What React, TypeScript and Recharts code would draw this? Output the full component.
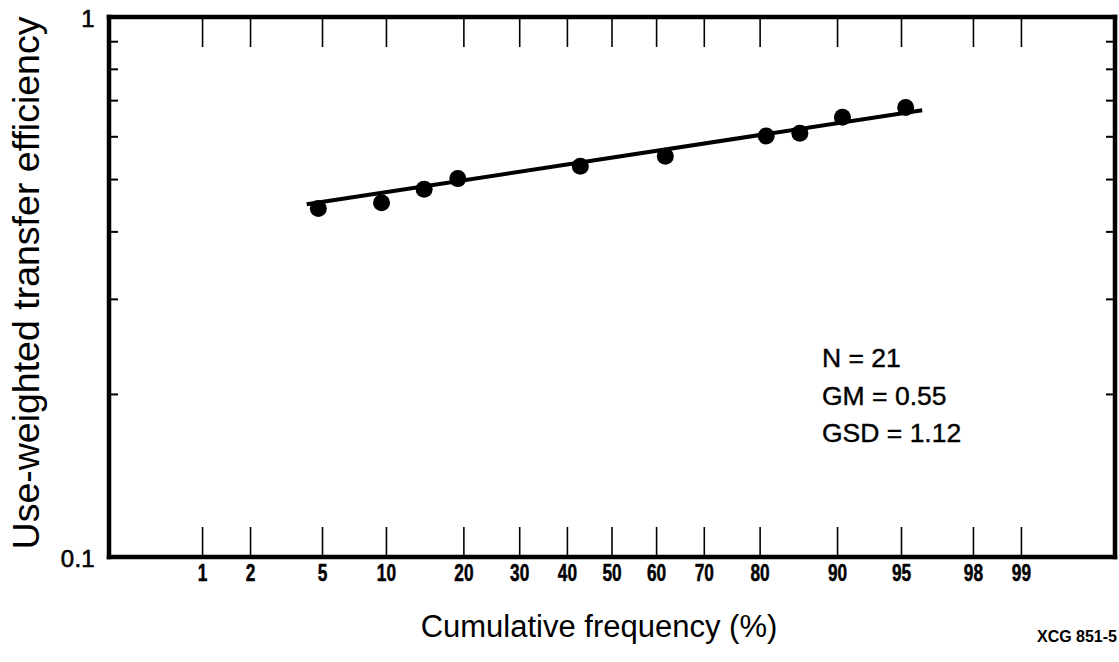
import React from 'react';
import { ScatterChart, Scatter, XAxis, YAxis } from 'recharts';

// ---- data ----
const cumFreq = [4.76, 9.52, 14.29, 19.05, 42.86, 61.9, 80.95, 85.71, 90.48, 95.24];
const efficiency = [0.442, 0.453, 0.48, 0.502, 0.529, 0.552, 0.602, 0.609, 0.652, 0.68];
const fitFreq = [4.14, 96.1];
const fitEff = [0.45, 0.672];
const xTickLabels = [1, 2, 5, 10, 20, 30, 40, 50, 60, 70, 80, 90, 95, 98, 99];
const yTicks = [0.1, 0.2, 0.3, 0.4, 0.5, 0.6, 0.7, 0.8, 0.9, 1];
const yLabelled = [0.1, 1];
const statsLines = ['N = 21', 'GM = 0.55', 'GSD = 1.12'];

// normal-probability axis transform (inverse normal CDF, Acklam)
function probit(p: number): number {
  const a = [-3.969683028665376e1, 2.209460984245205e2, -2.759285104469687e2, 1.38357751867269e2, -3.066479806614716e1, 2.506628277459239];
  const b = [-5.447609879822406e1, 1.615858368580409e2, -1.556989798598866e2, 6.680131188771972e1, -1.328068155288572e1];
  const c = [-7.784894002430293e-3, -3.223964580411365e-1, -2.400758277161838, -2.549732539343734, 4.374664141464968, 2.938163982698783];
  const d = [7.784695709041462e-3, 3.224671290700398e-1, 2.445134137142996, 3.754408661907416];
  const pl = 0.02425;
  if (p < pl) {
    const q = Math.sqrt(-2 * Math.log(p));
    return (((((c[0] * q + c[1]) * q + c[2]) * q + c[3]) * q + c[4]) * q + c[5]) / ((((d[0] * q + d[1]) * q + d[2]) * q + d[3]) * q + 1);
  }
  if (p > 1 - pl) {
    const q = Math.sqrt(-2 * Math.log(1 - p));
    return -(((((c[0] * q + c[1]) * q + c[2]) * q + c[3]) * q + c[4]) * q + c[5]) / ((((d[0] * q + d[1]) * q + d[2]) * q + d[3]) * q + 1);
  }
  const q = p - 0.5;
  const r = q * q;
  return ((((((a[0] * r + a[1]) * r + a[2]) * r + a[3]) * r + a[4]) * r + a[5]) * q) / (((((b[0] * r + b[1]) * r + b[2]) * r + b[3]) * r + b[4]) * r + 1);
}

const points = cumFreq.map((p, i) => ({ x: probit(p / 100), y: efficiency[i] }));
const fit = fitFreq.map((p, i) => ({ x: probit(p / 100), y: fitEff[i] }));
const xTicks = xTickLabels.map((p) => probit(p / 100));
const X_DOMAIN: [number, number] = [-2.858, 2.858];

const labelFor = (v: number) => {
  let best = 0;
  xTicks.forEach((t, i) => {
    if (Math.abs(t - v) < Math.abs(xTicks[best] - v)) best = i;
  });
  return xTickLabels[best];
};

const mainFont = "'Liberation Sans', Arial, Helvetica, sans-serif";

const BottomTick = (props: any) => {
  const { x, y, payload } = props;
  return (
    <g>
      <line x1={x} y1={y} x2={x} y2={y - 30} stroke="#000" strokeWidth={1.6} />
      <text
        x={0}
        y={0}
        transform={`translate(${x},${y + 23.5}) scale(0.72,1)`}
        textAnchor="middle"
        fontFamily={mainFont}
        fontWeight="bold"
        fontSize={24}
        fill="#000"
        stroke="#000"
        strokeWidth={0.5}
      >
        {labelFor(payload.value)}
      </text>
    </g>
  );
};

const TopTick = (props: any) => {
  const { x, y } = props;
  return <line x1={x} y1={y} x2={x} y2={y + 30} stroke="#000" strokeWidth={1.6} />;
};

const LeftTick = (props: any) => {
  const { x, y, payload } = props;
  const v = payload.value;
  const labelled = yLabelled.some((t) => Math.abs(t - v) < 1e-9);
  const isEnd = Math.abs(v - 0.1) < 1e-9 || Math.abs(v - 1) < 1e-9;
  return (
    <g>
      {!isEnd && <line x1={x} y1={y} x2={x + 9} y2={y} stroke="#000" strokeWidth={2} />}
      {labelled && (
        <text
          x={x - 14}
          y={y + 9.5}
          textAnchor="end"
          fontFamily={mainFont}
          fontSize={24}
          letterSpacing={0.3}
          fill="#000"
          stroke="#000"
          strokeWidth={0.6}
        >
          {v === 1 ? '1' : '0.1'}
        </text>
      )}
    </g>
  );
};

const RightTick = (props: any) => {
  const { x, y, payload } = props;
  const v = payload.value;
  const isEnd = Math.abs(v - 0.1) < 1e-9 || Math.abs(v - 1) < 1e-9;
  if (isEnd) return <g />;
  return <line x1={x} y1={y} x2={x - 9} y2={y} stroke="#000" strokeWidth={2} />;
};

const Dot = (props: any) => {
  const { cx, cy } = props;
  return <circle cx={cx} cy={cy} r={8.5} fill="#000" />;
};

const NoDot = () => <g />;

const axisLine = { stroke: '#000', strokeWidth: 4.5, strokeLinecap: 'square' as const };

export default function App() {
  return (
    <div style={{ position: 'absolute', left: 0, top: 0, width: 1119, height: 662, background: '#fff' }}>
      <ScatterChart width={1119} height={662} margin={{ top: 7, right: 0, bottom: 75, left: 99 }}>
        <XAxis
          xAxisId="b"
          type="number"
          dataKey="x"
          orientation="bottom"
          domain={X_DOMAIN}
          allowDataOverflow
          ticks={xTicks}
          interval={0}
          height={30}
          tickSize={0}
          tickMargin={0}
          tickLine={false}
          axisLine={axisLine}
          tick={<BottomTick />}
        />
        <XAxis
          xAxisId="t"
          type="number"
          dataKey="x"
          orientation="top"
          domain={X_DOMAIN}
          allowDataOverflow
          ticks={xTicks}
          interval={0}
          height={10}
          tickSize={0}
          tickMargin={0}
          tickLine={false}
          axisLine={axisLine}
          tick={<TopTick />}
        />
        <YAxis
          yAxisId="l"
          type="number"
          dataKey="y"
          orientation="left"
          scale="log"
          domain={[0.1, 1]}
          allowDataOverflow
          ticks={yTicks}
          interval={0}
          width={10}
          tickSize={0}
          tickMargin={0}
          tickLine={false}
          axisLine={axisLine}
          tick={<LeftTick />}
        />
        <YAxis
          yAxisId="r"
          type="number"
          dataKey="y"
          orientation="right"
          scale="log"
          domain={[0.1, 1]}
          allowDataOverflow
          ticks={yTicks}
          interval={0}
          width={4}
          tickSize={0}
          tickMargin={0}
          tickLine={false}
          axisLine={axisLine}
          tick={<RightTick />}
        />
        <Scatter
          xAxisId="b"
          yAxisId="l"
          data={fit}
          line={{ stroke: '#000', strokeWidth: 4 }}
          shape={<NoDot />}
          isAnimationActive={false}
        />
        <Scatter xAxisId="b" yAxisId="l" data={points} shape={<Dot />} isAnimationActive={false} />
      </ScatterChart>
      <svg width={1119} height={662} style={{ position: 'absolute', left: 0, top: 0, pointerEvents: 'none' }}>
        <text
          x={39}
          y={283}
          transform="rotate(-90, 39, 283)"
          textAnchor="middle"
          fontFamily={mainFont}
          fontSize={37.5}
          fill="#000"
        >
          Use-weighted transfer efficiency
        </text>
        <text x={599} y={637} textAnchor="middle" fontFamily={mainFont} fontSize={31} fill="#000">
          Cumulative frequency (%)
        </text>
        <text x={1117} y={642} textAnchor="end" fontFamily={mainFont} fontWeight="bold" fontSize={16} fill="#000">
          XCG 851-5
        </text>
        {statsLines.map((s, i) => (
          <text
            key={s}
            x={822}
            y={367 + i * 37.5}
            fontFamily={mainFont}
            fontSize={26.5}
            fill="#000"
            stroke="#000"
            strokeWidth={0.4}
            style={{ whiteSpace: 'pre' }}
          >
            {s}
          </text>
        ))}
      </svg>
    </div>
  );
}
